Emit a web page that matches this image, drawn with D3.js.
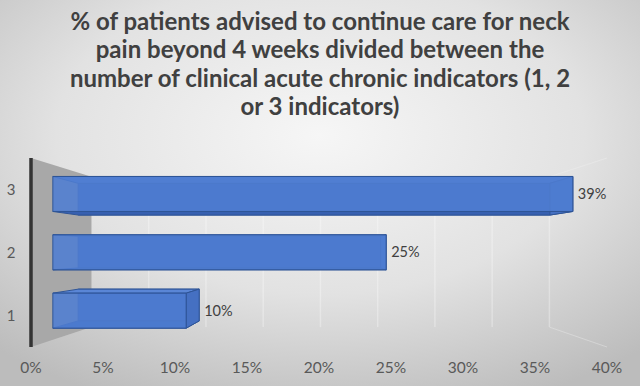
<!DOCTYPE html>
<html lang="en">
<head>
  <meta charset="UTF-8">
  <title>Neck pain chart</title>
  <script src="https://cdn.jsdelivr.net/npm/d3@7"></script>
  <style>
    body { margin: 0; }
    svg { display: block; font-family: Lato, "Open Sans", sans-serif; }
  </style>
</head>
<body>
<svg class="chart"></svg>
<script>
  var svgWidth = 640;
  var svgHeight = 386;

  var titleLines = [
    '% of patients advised to continue care for neck',
    'pain beyond 4 weeks divided between the',
    'number of clinical acute chronic indicators (1, 2',
    'or 3 indicators)'
  ];
  var categories = ['1', '2', '3'];
  var values = [10, 25, 39];
  var ticks = [0, 5, 10, 15, 20, 25, 30, 35, 40];

  // perspective: vanishing point and depth scale factors
  var vp = {x: 326, y: 250};
  var sFront = 0.926, sBack = 0.84, sWall = 0.795;
  function proj(x, y, s) {
    return [vp.x + (x - vp.x) * s, vp.y + (y - vp.y) * s];
  }

  var xScale = d3.scaleLinear().domain([0, 40]).range([31, 607]);
  var yScale = d3.scaleBand().domain(categories).range([347, 158])
    .paddingInner(0.4).paddingOuter(0.2);

  var svg = d3.select('.chart')
    .attr('width', svgWidth)
    .attr('height', svgHeight);

  var defs = svg.append('defs');
  var bg = defs.append('radialGradient').attr('id', 'bg')
    .attr('cx', '50%').attr('cy', '35%').attr('r', '75%');
  bg.append('stop').attr('offset', '0%').attr('stop-color', '#f6f6f6');
  bg.append('stop').attr('offset', '55%').attr('stop-color', '#e2e2e2');
  bg.append('stop').attr('offset', '100%').attr('stop-color', '#bcbcbc');

  svg.append('rect')
    .attr('width', svgWidth).attr('height', svgHeight)
    .attr('fill', 'url(#bg)');

  // title
  svg.append('g').selectAll('text')
    .data(titleLines)
    .enter()
    .append('text')
    .attr('x', 320)
    .attr('y', function(d, i) { return 30 + i * 28.3; })
    .attr('text-anchor', 'middle')
    .attr('font-size', 24)
    .attr('font-weight', 700)
    .attr('fill', '#404040')
    .text(function(d) { return d; });

  var yTop = yScale.range()[1], yBot = yScale.range()[0];
  var line = d3.line();

  // back wall gridlines
  svg.append('g').selectAll('line')
    .data(ticks.slice(1))
    .enter()
    .append('line')
    .attr('x1', function(d) { return proj(xScale(d), yTop, sWall)[0]; })
    .attr('y1', function(d) { return proj(xScale(d), yTop, sWall)[1]; })
    .attr('x2', function(d) { return proj(xScale(d), yBot, sWall)[0]; })
    .attr('y2', function(d) { return proj(xScale(d), yBot, sWall)[1]; })
    .attr('stroke', '#ffffff')
    .attr('stroke-opacity', 0.3)
    .attr('stroke-width', 1.5);

  // side wall edges
  var xEnd = xScale(40);
  [yTop, yBot].forEach(function(yy) {
    svg.append('path')
      .attr('d', line([proj(xEnd, yy, sWall), proj(xEnd, yy, 1)]))
      .attr('stroke', '#f4f4f4')
      .attr('stroke-opacity', 0.35)
      .attr('fill', 'none');
  });

  // floor (value 0 plane)
  var x0 = xScale(0);
  svg.append('path')
    .attr('d', line([proj(x0, yTop, 1), proj(x0, yTop, sWall),
      proj(x0, yBot, sWall), proj(x0, yBot, 1)]) + 'Z')
    .attr('fill', '#a8a8a8');
  svg.append('path')
    .attr('d', line([proj(x0, yTop, 1), proj(x0, yBot, 1)]))
    .attr('stroke', '#333333')
    .attr('stroke-width', 3.5);

  // bars
  var bw = yScale.bandwidth();
  var bars = svg.append('g');
  categories.forEach(function(c, i) {
    var xa = xScale(0), xb = xScale(values[i]);
    var ya = yScale(c), yb = ya + bw;
    function face(pts) {
      return line(pts) + 'Z';
    }
    var F = function(x, y) { return proj(x, y, sFront); };
    var B = function(x, y) { return proj(x, y, sBack); };
    var g = bars.append('g')
      .attr('stroke', '#2f5597')
      .attr('stroke-width', 1)
      .attr('stroke-linejoin', 'round');
    g.append('path').attr('d', face([B(xa, ya), B(xb, ya), B(xb, yb), B(xa, yb)]))
      .attr('fill', '#3c66b8');
    g.append('path').attr('d', face([F(xa, ya), F(xb, ya), B(xb, ya), B(xa, ya)]))
      .attr('fill', '#5a86d6');
    g.append('path').attr('d', face([F(xa, yb), F(xb, yb), B(xb, yb), B(xa, yb)]))
      .attr('fill', '#3760b0');
    g.append('path').attr('d', face([F(xb, ya), B(xb, ya), B(xb, yb), F(xb, yb)]))
      .attr('fill', '#4570c2');
    g.append('path').attr('d', face([F(xa, ya), F(xb, ya), F(xb, yb), F(xa, yb)]))
      .attr('fill', '#4f7dd2')
      .attr('fill-opacity', 0.88);

    var endX = Math.max(F(xb, ya)[0], B(xb, ya)[0]);
    svg.append('text')
      .attr('x', endX + 5)
      .attr('y', F(xb, ya + bw / 2)[1])
      .attr('dy', '0.35em')
      .attr('font-size', 14.5)
      .attr('fill', '#404040')
      .text(values[i] + '%');
  });

  // category labels
  svg.append('g').selectAll('text')
    .data(categories)
    .enter()
    .append('text')
    .attr('x', 11)
    .attr('y', function(d) { return yScale(d) + bw / 2; })
    .attr('dy', '0.35em')
    .attr('text-anchor', 'middle')
    .attr('font-size', 15)
    .attr('fill', '#595959')
    .text(function(d) { return d; });

  // value axis labels
  svg.append('g').selectAll('text')
    .data(ticks)
    .enter()
    .append('text')
    .attr('x', function(d) { return xScale(d); })
    .attr('y', 368)
    .attr('dy', '0.35em')
    .attr('text-anchor', 'middle')
    .attr('font-size', 15.5)
    .attr('fill', '#595959')
    .text(function(d) { return d + '%'; });
</script>
</body>
</html>
